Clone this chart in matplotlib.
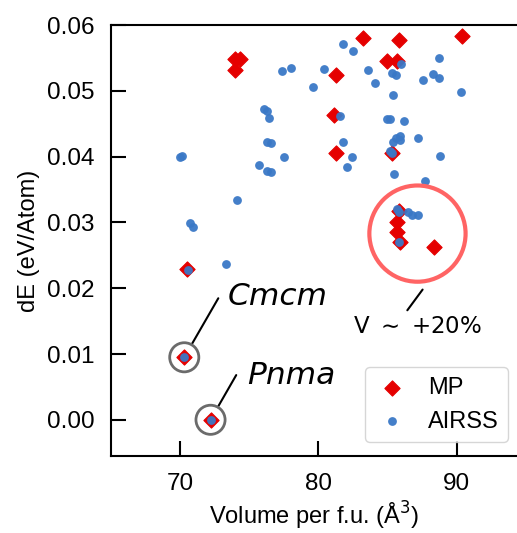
import numpy as np
import matplotlib
matplotlib.use("Agg")
import matplotlib.pyplot as plt
from matplotlib.transforms import offset_copy

# --- data ---
mp_volume = [74.0, 74.3, 74.0, 81.3, 81.1, 81.3, 83.2, 85.8, 90.4, 85.0, 85.7,
             85.3, 85.8, 85.7, 85.7, 85.9, 88.4, 70.5, 70.3, 72.2]
mp_de = [0.0548, 0.0548, 0.0531, 0.0524, 0.0464, 0.0405, 0.0580, 0.0577,
         0.0584, 0.0545, 0.0545, 0.0405, 0.0317, 0.0301, 0.0285, 0.0271,
         0.0262, 0.0229, 0.0095, 0.0000]

airss_volume = [81.8, 82.5, 77.4, 78.0, 80.4, 79.6, 76.1, 76.3, 76.4, 81.6,
                76.3, 76.6, 81.8, 70.0, 70.1, 77.5, 82.4, 75.7, 76.3, 76.6,
                82.1, 74.1, 83.6, 84.1, 86.0, 85.3, 85.6, 85.4, 88.7, 88.3,
                88.7, 87.6, 90.3, 85.0, 85.2, 86.2, 85.6, 85.9, 85.9, 85.4,
                87.2, 85.2, 85.3, 88.8, 85.5, 87.7, 70.7, 70.9, 73.3, 70.6,
                70.3, 72.2, 85.7, 85.8, 86.5, 86.8, 87.2, 85.8]
airss_de = [0.0571, 0.0560, 0.0530, 0.0535, 0.0533, 0.0506, 0.0473, 0.0470,
            0.0458, 0.0462, 0.0422, 0.0421, 0.0422, 0.0400, 0.0401, 0.0399,
            0.0399, 0.0388, 0.0378, 0.0376, 0.0384, 0.0334, 0.0531, 0.0512,
            0.0541, 0.0527, 0.0524, 0.0493, 0.0550, 0.0525, 0.0520, 0.0517,
            0.0498, 0.0457, 0.0457, 0.0454, 0.0429, 0.0431, 0.0426, 0.0423,
            0.0429, 0.0408, 0.0406, 0.0401, 0.0373, 0.0363, 0.0299, 0.0293,
            0.0237, 0.0228, 0.0095, 0.0000, 0.0320, 0.0316, 0.0316, 0.0311,
            0.0312, 0.0271]

cmcm = (70.3, 0.0095)
pnma = (72.2, 0.0000)
cluster_centre = (87.17, 0.0283)

red = "#e50000"
blue = "#3a78c6"
tick_font = "Liberation Sans"

fig = plt.figure(figsize=(5.17, 5.33), dpi=100)
ax = fig.add_axes([0.2147, 0.1445, 0.7853, 0.8085])

ax.scatter(mp_volume, mp_de, marker="D", s=60, color=red, linewidths=0.8,
           label="MP", zorder=3)
ax.scatter(airss_volume, airss_de, marker="o", s=40, color=blue,
           linewidths=0, alpha=0.95, label="AIRSS", zorder=4)

# circles around the known phases and the expanded cluster
ax.scatter(*zip(cmcm, pnma), s=440, facecolors="none", edgecolors="#6b6b6b",
           linewidths=2.0, zorder=5)
ax.scatter(*cluster_centre, s=4800, facecolors="none", edgecolors="#ff6464",
           linewidths=3.0, zorder=5)

line_kw = dict(arrowstyle="-", color="black", lw=1.5, shrinkA=0, shrinkB=10.5)
ax.annotate("", xy=cmcm, xytext=(24.5, 42.5), textcoords="offset points",
            arrowprops=line_kw)
ax.annotate("Cmcm", xy=cmcm, xytext=(31.5, 37.7), textcoords="offset points",
            fontsize=22.5, fontstyle="italic", va="baseline", ha="left")
ax.annotate("", xy=pnma, xytext=(18.5, 32.2), textcoords="offset points",
            arrowprops=line_kw)
ax.annotate("Pnma", xy=pnma, xytext=(26.6, 25.9), textcoords="offset points",
            fontsize=22.5, fontstyle="italic", va="baseline", ha="left")

p_end = offset_copy(ax.transData, fig=fig, x=3.7, y=-40.3, units="points")
p_start = offset_copy(ax.transData, fig=fig, x=-7.3, y=-55.2, units="points")
ax.annotate("", xy=cluster_centre, xycoords=p_end,
            xytext=cluster_centre, textcoords=p_start,
            arrowprops=dict(arrowstyle="-", color="black", lw=1.5,
                            shrinkA=0, shrinkB=0))
ax.annotate("V $\\sim$ +20%", xy=cluster_centre, xytext=(0, -71.3),
            textcoords="offset points", fontsize=16.5, ha="center",
            va="baseline")

ax.set_xlim(65, 94.37)
ax.set_ylim(-0.0055, 0.06)
ax.set_xticks([70, 80, 90])
ax.set_yticks([0.00, 0.01, 0.02, 0.03, 0.04, 0.05, 0.06])
ax.set_yticklabels(["0.00", "0.01", "0.02", "0.03", "0.04", "0.05", "0.06"])

for side in ["left", "bottom", "top"]:
    ax.spines[side].set_linewidth(1.5)
ax.spines["right"].set_visible(False)
ax.tick_params(direction="in", length=11, width=1.5, pad=12, labelsize=17.5)
for lab in ax.get_xticklabels() + ax.get_yticklabels():
    lab.set_fontfamily(tick_font)

ax.set_xlabel("Volume per f.u. (Å$^3$)", fontsize=17, fontfamily=tick_font,
              labelpad=4)
ax.set_ylabel("dE (eV/Atom)", fontsize=17, fontfamily=tick_font, labelpad=5)

leg = ax.legend(loc="lower right", bbox_to_anchor=(0.978, 0.0325),
                borderaxespad=0, handlelength=1.5, handletextpad=0.75,
                prop={"family": tick_font, "size": 17}, framealpha=0.8)

fig.savefig("out.png", dpi=100)
